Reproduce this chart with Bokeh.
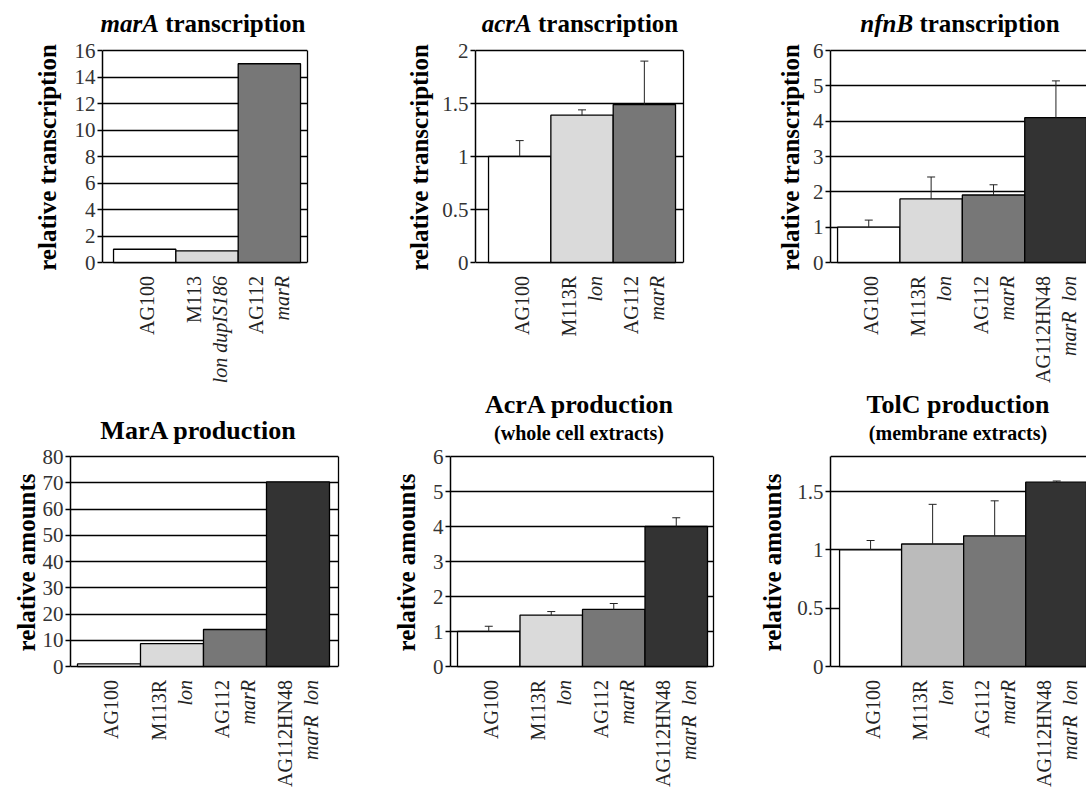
import math
from bokeh.plotting import figure
from bokeh.models import (Range1d, Label, Whisker, TeeHead, ColumnDataSource, Div,
                          SingleIntervalTicker, FixedTicker, LinearAxis, Grid, Span,
                          CustomJSTickFormatter)
from bokeh.layouts import row, column
from bokeh.embed import file_html
from bokeh.resources import INLINE

# ---------------- data ----------------
marA_strains = ["AG100", "M113", "AG112"]
marA_geno = ["", "lon dupIS186", "marR"]
marA_vals = [1.0, 0.88, 15.0]

acrA_strains = ["AG100", "M113R", "AG112"]
acrA_geno = ["", "lon", "marR"]
acrA_vals = [1.0, 1.39, 1.49]
acrA_err = [0.15, 0.05, 0.41]

strains4 = ["AG100", "M113R", "AG112", "AG112HN48"]
geno4 = ["", "lon", "marR", "marR\u00a0\u00a0lon"]

nfnB_vals = [1.0, 1.8, 1.91, 4.1]
nfnB_err = [0.2, 0.62, 0.29, 1.04]

MarA_vals = [1.0, 8.7, 14.1, 70.3]

AcrA_vals = [1.0, 1.47, 1.63, 4.0]
AcrA_err = [0.15, 0.1, 0.17, 0.25]

TolC_vals = [1.0, 1.05, 1.12, 1.58]
TolC_err = [0.08, 0.34, 0.3, 0.01]

FONT = "Liberation Serif"
WHITE, LIGHT, MID, DARK, LIGHT2 = "#ffffff", "#dadada", "#777777", "#333333", "#bbbbbb"

PAD_T, PAD_B = 11, 13  # padding of the main figure around the plotting area


def title_div(W, H, items):
    parts = []
    for html, size, cx, baseline in items:
        top = baseline - 0.8375 * size
        parts.append(
            f'<div style="position:absolute;left:{cx - 200}px;width:400px;top:{top:.1f}px;'
            f'text-align:center;white-space:pre;font-family:\'{FONT}\';font-weight:bold;'
            f'font-size:{size}px;line-height:1;color:black">{html}</div>')
    inner = (f'<div style="position:relative;width:{W}px;height:{H}px;overflow:hidden;'
             f'background:white">' + "".join(parts) + "</div>")
    return Div(text=inner, width=W, height=H, margin=(0, 0, 0, 0))


def blank(W, H, xr, bl, br):
    f = figure(width=W, height=H, x_range=xr, y_range=Range1d(0, H),
               output_backend="svg", toolbar_location=None, tools="",
               x_axis_location=None, y_axis_location=None,
               min_border_left=bl, min_border_right=br, min_border_top=0,
               min_border_bottom=0)
    f.outline_line_color = None
    f.xgrid.visible = False
    f.ygrid.visible = False
    f.background_fill_color = "white"
    f.border_fill_color = "white"
    return f


def panel(W, Ht, Hp, Hl, bl, br, x0, x1, ymax, yint, strains, genos, vals, errs,
          colors, ylabel, ystand, titles, right_border=True, top_span=False):
    xr = Range1d(x0, x1)
    H = Hp + PAD_T + PAD_B
    y0 = -PAD_B * ymax / Hp
    y1 = ymax + PAD_T * ymax / Hp
    p = figure(width=W, height=H, x_range=xr, y_range=Range1d(y0, y1),
               output_backend="svg", toolbar_location=None, tools="",
               x_axis_location=None, y_axis_location=None,
               min_border_left=bl, min_border_right=br, min_border_top=0,
               min_border_bottom=0)
    p.background_fill_color = "white"
    p.border_fill_color = "white"
    p.outline_line_color = None
    p.xgrid.visible = False
    p.ygrid.visible = False

    yax = LinearAxis(bounds=(0, ymax), ticker=SingleIntervalTicker(interval=yint),
                     formatter=CustomJSTickFormatter(code="return tick.toString();"))
    yax.minor_tick_line_color = None
    yax.major_tick_in = 0
    yax.major_tick_out = 5
    yax.major_tick_line_width = 1.3
    yax.axis_line_width = 1.5
    yax.major_label_standoff = 2
    yax.major_label_text_font = FONT
    yax.major_label_text_font_size = "21px"
    yax.major_label_text_line_height = 1.0
    yax.major_label_text_color = "#333333"
    yax.axis_label = ylabel
    yax.axis_label_text_font = FONT
    yax.axis_label_text_font_size = "25px"
    yax.axis_label_text_font_style = "bold"
    yax.axis_label_text_color = "black"
    yax.axis_label_standoff = ystand
    p.add_layout(yax, "left")

    if right_border:
        rax = LinearAxis(bounds=(0, ymax), ticker=FixedTicker(ticks=[]))
        rax.major_tick_line_color = None
        rax.minor_tick_line_color = None
        rax.major_label_text_font_size = "0px"
        rax.axis_line_width = 1.3
        p.add_layout(rax, "right")

    n_ticks = int(math.floor(ymax / yint + 1e-9))
    grid_ticks = [k * yint for k in range(n_ticks + 1)]
    g = Grid(dimension=1, ticker=FixedTicker(ticks=grid_ticks),
             grid_line_color="black", grid_line_width=1.3)
    p.add_layout(g)
    if top_span:
        p.add_layout(Span(location=ymax, dimension="width", line_color="black",
                          line_width=1.3, level="underlay"))

    idx = list(range(len(vals)))
    src = ColumnDataSource(dict(x=idx, top=vals, color=colors))
    p.vbar(x="x", top="top", bottom=0, width=1.0, source=src, fill_color="color",
           line_color="black", line_width=1.3)

    if errs is not None:
        esrc = ColumnDataSource(dict(x=idx, lower=vals,
                                     upper=[v + e for v, e in zip(vals, errs)]))
        w = Whisker(source=esrc, base="x", lower="lower", upper="upper",
                    dimension="height", lower_head=None,
                    upper_head=TeeHead(size=8, line_color="#222222", line_width=1),
                    line_color="#222222", line_width=1, level="overlay")
        p.add_layout(w)

    # category labels (below the plotting area)
    lf = blank(W, Hl, xr, bl, br)
    ytop = Hl - 0.5
    for i, (s, gg) in enumerate(zip(strains, genos)):
        if gg:
            lf.add_layout(Label(x=i, y=ytop, x_offset=-13, text=s,
                                angle=math.pi / 2, text_align="right",
                                text_baseline="middle", text_font=FONT,
                                text_font_size="20px", text_color="#222222"))
            lf.add_layout(Label(x=i, y=ytop, x_offset=13, text=gg,
                                angle=math.pi / 2, text_align="right",
                                text_baseline="middle", text_font=FONT,
                                text_font_size="20px", text_font_style="italic",
                                text_color="#222222"))
        else:
            lf.add_layout(Label(x=i, y=ytop, x_offset=2, text=s,
                                angle=math.pi / 2, text_align="right",
                                text_baseline="middle", text_font=FONT,
                                text_font_size="20px", text_color="#222222"))

    tf = title_div(W, Ht, titles)
    return column(tf, p, lf, spacing=0)


# Row 1 (390 px): titles 39, main 11+212+13, labels 115
R1 = dict(Ht=39, Hp=212, Hl=115)
c1 = panel(360, **R1, bl=102, br=53, x0=-0.677, x1=2.612, ymax=16, yint=2,
           strains=marA_strains, genos=marA_geno, vals=marA_vals, errs=None,
           colors=[WHITE, LIGHT, MID], ylabel="relative transcription", ystand=11,
           titles=[("<i>marA</i> transcription", 25, 203, 32)])
c2 = panel(360, **R1, bl=115, br=37, x0=-0.709, x1=2.628, ymax=2, yint=0.5,
           strains=acrA_strains, genos=acrA_geno, vals=acrA_vals, errs=acrA_err,
           colors=[WHITE, LIGHT, MID], ylabel="relative transcription", ystand=6,
           titles=[("<i>acrA</i> transcription", 25, 220, 32)])
c3 = panel(366, **R1, bl=110, br=0, x0=-0.613, x1=3.49, ymax=6, yint=1,
           strains=strains4, genos=geno4, vals=nfnB_vals, errs=nfnB_err,
           colors=[WHITE, LIGHT, MID, DARK], ylabel="relative transcription", ystand=6,
           titles=[("<i>nfnB</i> transcription", 25, 240, 32)],
           right_border=False)

# Row 2 (397 px): titles 55, main 11+210+13, labels 108
R2 = dict(Ht=55, Hp=210, Hl=108)
c4 = panel(360, **R2, bl=70, br=22, x0=-0.611, x1=3.643, ymax=80, yint=10,
           strains=strains4, genos=geno4, vals=MarA_vals, errs=None,
           colors=[WHITE, LIGHT, MID, DARK], ylabel="relative amounts", ystand=0,
           titles=[("MarA production", 26, 198, 50)])
c5 = panel(360, **R2, bl=90, br=7, x0=-0.612, x1=3.596, ymax=6, yint=1,
           strains=strains4, genos=geno4, vals=AcrA_vals, errs=AcrA_err,
           colors=[WHITE, LIGHT, MID, DARK], ylabel="relative amounts", ystand=10,
           titles=[("AcrA production", 26, 219, 24),
                   ("(whole cell extracts)", 20, 219, 50)])
c6 = panel(366, **R2, bl=110, br=0, x0=-0.646, x1=3.48, ymax=1.8, yint=0.5,
           strains=strains4, genos=geno4, vals=TolC_vals, errs=TolC_err,
           colors=[WHITE, LIGHT2, MID, DARK], ylabel="relative amounts", ystand=8,
           titles=[("TolC production", 26, 238, 24),
                   ("(membrane extracts)", 20, 238, 50)],
           right_border=False, top_span=True)

layout = column(row(c1, c2, c3, spacing=0), row(c4, c5, c6, spacing=0), spacing=0)
open("out.html", "w").write(file_html(layout, INLINE))
